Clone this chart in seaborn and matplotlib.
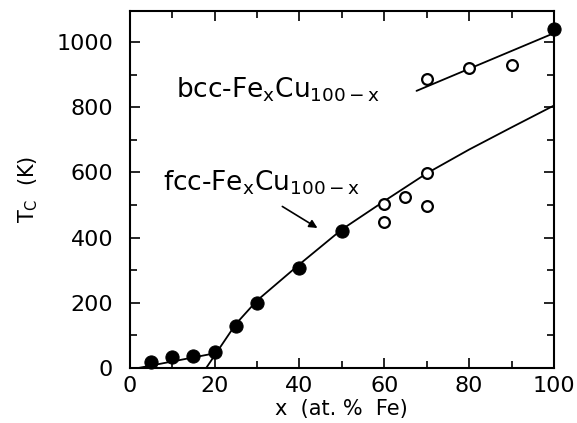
import numpy as np
import pandas as pd
import matplotlib
matplotlib.use("Agg")
import matplotlib.pyplot as plt
import seaborn as sns

# data
fcc_filled_x = [5, 10, 15, 20, 25, 30, 40, 50, 100]
fcc_filled_y = [18, 33, 37, 48, 129, 198, 306, 420, 1039]
open_x = [60, 60, 65, 70, 70]
open_y = [503, 449, 525, 597, 497]
bcc_x = [70, 80, 90]
bcc_y = [885, 919, 929]

# guide lines
low_line_x = [2, 20]
low_line_y = [0, 45]
fcc_line_x = [18, 25, 30, 40, 50, 60, 70, 80, 90, 100]
fcc_line_y = [0, 135, 207, 318, 425, 512, 597, 670, 738, 805]
bcc_line_x = [67.6, 100]
bcc_line_y = [850, 1027]

sns.set_style("ticks", {"text.color": "black", "axes.labelcolor": "black",
                        "xtick.color": "black", "ytick.color": "black",
                        "axes.edgecolor": "black"})
plt.rcParams['font.family'] = ['DejaVu Sans']

fig, ax = plt.subplots(figsize=(5.77, 4.23), dpi=100)
fig.subplots_adjust(left=0.225, right=0.96, top=0.974, bottom=0.13)

sns.lineplot(x=low_line_x, y=low_line_y, ax=ax, color='black', lw=1.3)
sns.lineplot(x=fcc_line_x, y=fcc_line_y, ax=ax, color='black', lw=1.3)
sns.lineplot(x=bcc_line_x, y=bcc_line_y, ax=ax, color='black', lw=1.3)

sns.scatterplot(x=fcc_filled_x, y=fcc_filled_y, ax=ax, color='black', s=90,
                edgecolor='black', zorder=5, clip_on=False)
sns.scatterplot(x=open_x + bcc_x, y=open_y + bcc_y, ax=ax, facecolor='white',
                edgecolor='black', linewidth=1.6, s=60, zorder=5)

ax.text(11, 853, r'bcc-Fe$_\mathregular{x}$Cu$_\mathregular{100-x}$', fontsize=19,
        va='center', ha='left')
ax.text(7.8, 567, r'fcc-Fe$_\mathregular{x}$Cu$_\mathregular{100-x}$', fontsize=19,
        va='center', ha='left')
ax.annotate('', xy=(44.8, 425), xytext=(35.4, 500),
            arrowprops=dict(arrowstyle='-|>', color='black', lw=1.2, mutation_scale=12))

ax.set_xlim(0, 100)
ax.set_ylim(0, 1095)
ax.set_xticks(np.arange(0, 101, 20))
ax.set_xticks(np.arange(0, 101, 10), minor=True)
ax.set_yticks(np.arange(0, 1001, 200))
ax.set_yticks(np.arange(0, 1001, 100), minor=True)
ax.tick_params(which='both', direction='in', top=True, right=True, labelsize=16, width=1.2)
ax.tick_params(which='major', length=7)
ax.tick_params(which='minor', length=5)
ax.tick_params(axis='y', which='major', pad=12)
ax.tick_params(axis='x', which='major', pad=6)
for sp in ax.spines.values():
    sp.set_linewidth(1.5)

ax.set_xlabel('x  (at. %  Fe)', fontsize=15, labelpad=2)
ax.set_ylabel(r'T$_\mathregular{C}$  (K)', fontsize=15, labelpad=12)

fig.savefig('out.png', dpi=100)
